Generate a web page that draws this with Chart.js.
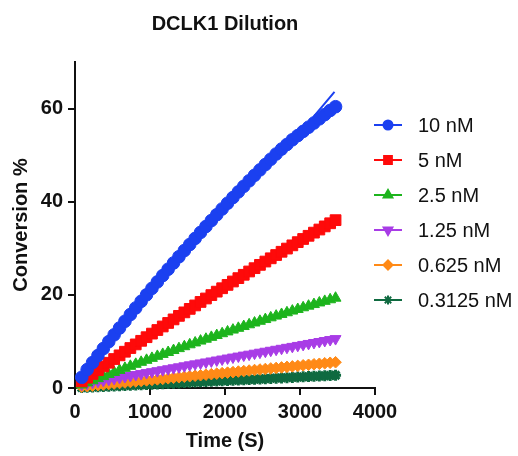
<!DOCTYPE html>
<html lang="en">
<head>
    <meta charset="UTF-8">
    <title>DCLK1 Dilution</title>
    <script src="https://cdn.jsdelivr.net/npm/chart.js"></script>
    <style>
        html, body { margin: 0; padding: 0; background: #fff; }
        #wrap { width: 518px; height: 456px; position: relative; }
    </style>
</head>
<body>
    <div id="wrap"><canvas id="dilutionChart"></canvas></div>
    <script>
        // time points (s)
        var timeSec = [90, 162, 234, 306, 378, 450, 522, 594, 666, 738, 810, 882, 954, 1026, 1098, 1170,
            1242, 1314, 1386, 1458, 1530, 1602, 1674, 1746, 1818, 1890, 1962, 2034, 2106, 2178, 2250, 2322,
            2394, 2466, 2538, 2610, 2682, 2754, 2826, 2898, 2970, 3042, 3114, 3186, 3258, 3330, 3402, 3474];

        var seriesNames = ['10 nM', '5 nM', '2.5 nM', '1.25 nM', '0.625 nM', '0.3125 nM'];

        // conversion % per concentration
        var conv10 = [2.3, 3.95, 5.47, 6.98, 8.47, 9.95, 11.42, 12.88, 14.33, 15.77, 17.19, 18.61, 20.01, 21.40, 22.78, 24.15,
            25.51, 26.85, 28.19, 29.51, 30.82, 32.12, 33.41, 34.69, 35.95, 37.21, 38.45, 39.68, 40.90, 42.11, 43.31, 44.49,
            45.67, 46.83, 47.98, 49.12, 50.25, 51.3, 52.3, 53.3, 54.2, 55.1, 56.0, 56.9, 57.8, 58.7, 59.6, 60.4];
        var conv5 = [1.42, 2.22, 3.03, 3.83, 4.63, 5.42, 6.22, 7.01, 7.79, 8.58, 9.36, 10.13, 10.91, 11.68, 12.45, 13.21,
            13.97, 14.73, 15.49, 16.24, 16.99, 17.73, 18.48, 19.22, 19.95, 20.69, 21.42, 22.14, 22.87, 23.59, 24.31, 25.02,
            25.73, 26.44, 27.15, 27.85, 28.55, 29.25, 29.94, 30.63, 31.32, 32.00, 32.68, 33.36, 34.03, 34.70, 35.37, 36.04];
        var conv2_5 = [0.67, 1.13, 1.58, 2.04, 2.48, 2.93, 3.37, 3.81, 4.25, 4.69, 5.12, 5.55, 5.98, 6.40, 6.83, 7.25,
            7.66, 8.08, 8.49, 8.90, 9.31, 9.71, 10.11, 10.51, 10.91, 11.30, 11.69, 12.08, 12.47, 12.85, 13.23, 13.61,
            13.99, 14.36, 14.73, 15.10, 15.47, 15.83, 16.19, 16.55, 16.90, 17.26, 17.61, 17.95, 18.30, 18.64, 18.98, 19.32];
        var conv1_25 = [0.76, 0.97, 1.18, 1.39, 1.60, 1.81, 2.01, 2.22, 2.43, 2.64, 2.85, 3.06, 3.27, 3.48, 3.68, 3.89,
            4.10, 4.31, 4.52, 4.73, 4.94, 5.15, 5.35, 5.56, 5.77, 5.98, 6.19, 6.40, 6.61, 6.82, 7.03, 7.23,
            7.44, 7.65, 7.86, 8.07, 8.28, 8.49, 8.70, 8.90, 9.11, 9.32, 9.53, 9.74, 9.95, 10.16, 10.37, 10.57];
        var conv0_625 = [0.29, 0.40, 0.51, 0.62, 0.74, 0.85, 0.96, 1.07, 1.18, 1.29, 1.41, 1.52, 1.63, 1.74, 1.85, 1.96,
            2.08, 2.19, 2.30, 2.41, 2.52, 2.63, 2.74, 2.86, 2.97, 3.08, 3.19, 3.30, 3.41, 3.53, 3.64, 3.75,
            3.86, 3.97, 4.08, 4.20, 4.31, 4.42, 4.53, 4.64, 4.75, 4.87, 4.98, 5.09, 5.20, 5.31, 5.42, 5.53];
        var conv0_3125 = [0.09, 0.15, 0.20, 0.26, 0.31, 0.37, 0.43, 0.48, 0.54, 0.60, 0.65, 0.71, 0.76, 0.82, 0.88, 0.93,
            0.99, 1.04, 1.10, 1.16, 1.21, 1.27, 1.33, 1.38, 1.44, 1.49, 1.55, 1.61, 1.66, 1.72, 1.78, 1.83,
            1.89, 1.94, 2.00, 2.06, 2.11, 2.17, 2.22, 2.28, 2.34, 2.39, 2.45, 2.51, 2.56, 2.62, 2.67, 2.73];

        // fitted curve for 10 nM
        var fitTime = [90, 600, 1200, 1800, 2400, 3000, 3460];
        var fitConv = [2.3, 13.0, 24.6, 35.6, 45.8, 54.8, 63.6];

        var xTicks = [0, 1000, 2000, 3000, 4000];
        var yTicks = [0, 20, 40, 60];

        var allSeries = [conv10, conv5, conv2_5, conv1_25, conv0_625, conv0_3125];
        var colors = ['#1b40f0', '#fe0a0a', '#1db41d', '#a83ce6', '#ff8a17', '#0f6a40'];
        var styles = ['circle', 'rect', 'triangle', 'triangle', 'rectRot', 'star'];
        var rotations = [0, 0, 0, 180, 0, 0];
        var radii = [6.3, 7.6, 6.3, 6.3, 5.8, 5.5];
        var legendRadii = [4.5, 5.5, 5, 5, 4.5, 4.5];

        var FONT = "'Liberation Sans', Arial, sans-serif";

        function toPoints(ys) {
            return timeSec.map(function (t, i) { return { x: t, y: ys[i] }; });
        }

        var datasets = allSeries.map(function (ys, i) {
            return {
                label: seriesNames[i],
                data: toPoints(ys),
                showLine: true,
                borderColor: colors[i],
                backgroundColor: colors[i],
                borderWidth: 2,
                pointStyle: styles[i],
                pointRotation: rotations[i],
                pointRadius: radii[i],
                pointBorderWidth: styles[i] === 'star' ? 3 : 1,
                pointBorderColor: colors[i],
                pointBackgroundColor: colors[i],
                pointHoverRadius: radii[i],
                clip: false
            };
        });

        datasets.push({
            label: 'fit',
            data: fitTime.map(function (t, i) { return { x: t, y: fitConv[i] }; }),
            showLine: true,
            borderColor: colors[0],
            borderWidth: 2,
            pointRadius: 0,
            clip: false
        });

        // legend to the right, line + marker like the original
        var sideLegend = {
            id: 'sideLegend',
            afterDraw: function (chart) {
                var ctx = chart.ctx;
                ctx.save();
                seriesNames.forEach(function (name, i) {
                    var y = 125 + i * 35;
                    ctx.strokeStyle = colors[i];
                    ctx.fillStyle = colors[i];
                    ctx.lineWidth = 2;
                    ctx.beginPath();
                    ctx.moveTo(374, y);
                    ctx.lineTo(402, y);
                    ctx.stroke();
                    Chart.helpers.drawPoint(ctx, {
                        pointStyle: styles[i],
                        rotation: rotations[i],
                        radius: legendRadii[i],
                        borderWidth: styles[i] === 'star' ? 2.5 : 1
                    }, 388, y);
                    ctx.fillStyle = '#111';
                    ctx.font = '20px ' + FONT;
                    ctx.textAlign = 'left';
                    ctx.textBaseline = 'middle';
                    ctx.fillText(name, 418, y + 1);
                });
                ctx.restore();
            }
        };

        var ctx = document.getElementById('dilutionChart').getContext('2d');
        var chart = new Chart(ctx, {
            type: 'scatter',
            data: { datasets: datasets },
            plugins: [sideLegend],
            options: {
                responsive: true,
                maintainAspectRatio: false,
                animation: false,
                events: [],
                layout: { padding: { left: 5, right: 143, top: 0, bottom: 3 } },
                plugins: {
                    legend: { display: false },
                    tooltip: { enabled: false },
                    title: {
                        display: true,
                        text: 'DCLK1 Dilution',
                        fullSize: false,
                        color: '#111',
                        font: { family: FONT, size: 20, weight: 'bold' },
                        padding: { top: 12, bottom: 26 }
                    }
                },
                scales: {
                    x: {
                        type: 'linear',
                        min: 0,
                        max: 4000,
                        afterBuildTicks: function (scale) {
                            scale.ticks = xTicks.map(function (v) { return { value: v }; });
                        },
                        ticks: {
                            color: '#111',
                            padding: 5,
                            maxRotation: 0,
                            callback: function (v) { return String(v); },
                            font: { family: FONT, size: 20, weight: 'bold' }
                        },
                        grid: { display: true, drawOnChartArea: false, drawTicks: true, tickLength: 7, color: '#111', lineWidth: 2 },
                        border: { display: true, color: '#111', width: 2 },
                        title: {
                            display: true,
                            text: 'Time (S)',
                            color: '#111',
                            font: { family: FONT, size: 20, weight: 'bold' },
                            padding: { top: 0, bottom: 0 }
                        }
                    },
                    y: {
                        type: 'linear',
                        min: 0,
                        max: 70,
                        afterBuildTicks: function (scale) {
                            scale.ticks = yTicks.map(function (v) { return { value: v }; });
                        },
                        afterFit: function (scale) { scale.width = 70; },
                        ticks: {
                            color: '#111',
                            padding: 5,
                            font: { family: FONT, size: 20, weight: 'bold' }
                        },
                        grid: { display: true, drawOnChartArea: false, drawTicks: true, tickLength: 7, color: '#111', lineWidth: 2 },
                        border: { display: true, color: '#111', width: 2 },
                        title: {
                            display: true,
                            text: 'Conversion %',
                            color: '#111',
                            font: { family: FONT, size: 20, weight: 'bold' },
                            padding: { top: 4, bottom: 4 }
                        }
                    }
                }
            }
        });
    </script>
</body>
</html>
